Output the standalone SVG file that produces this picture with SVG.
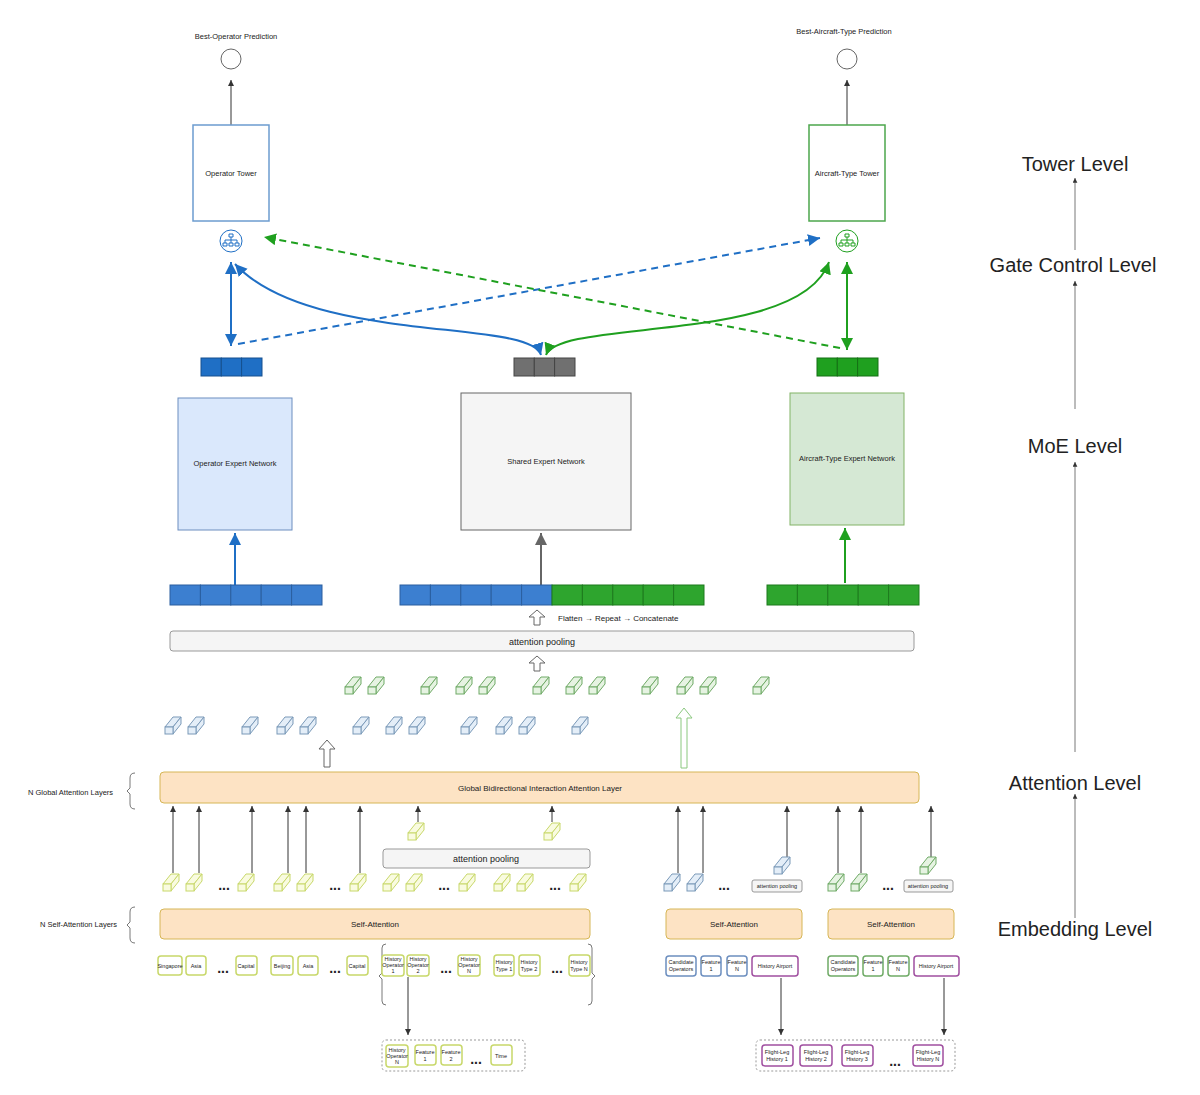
<svg xmlns="http://www.w3.org/2000/svg" xmlns:xlink="http://www.w3.org/1999/xlink" width="1200" height="1095" viewBox="0 0 1200 1095">
<style>
text{font-family:"Liberation Sans",Arial,sans-serif;fill:#222}
.s7{font-size:7.5px}.s6{font-size:5.5px}.s8{font-size:8px}.s9{font-size:9px}.lv{font-size:20px}
.ln{stroke:#333;stroke-width:1;fill:none}
.thin{stroke:#555;stroke-width:0.8;fill:none}
.cy{fill:#f9fbe0;stroke:#c8d86a}
.cb{fill:#e4eef8;stroke:#7a99b8}
.cg{fill:#e6f3e2;stroke:#6faa66}
.ey{fill:#fff;stroke:#c8d86a;stroke-width:1.5}
.eb{fill:#fff;stroke:#6c8ebf;stroke-width:1.5}
.eg{fill:#fff;stroke:#6faa66;stroke-width:1.5}
.ep{fill:#fff;stroke:#a04fa0;stroke-width:1.5}
.att{fill:#fde3c4;stroke:#d6b656}
.pool{fill:#f5f5f5;stroke:#999}
.dot{font-size:14px;font-weight:bold}
.hol{fill:#fff;stroke:#666}
</style>
<defs>
<g id="cube" stroke-width="1"><polygon points="0,10 8,0 16,0 8,10"/><polygon points="8,10 16,0 16,7 8,17"/><rect x="0" y="10" width="8" height="7"/></g>
<marker id="ak" markerWidth="8" markerHeight="8" refX="6" refY="3" orient="auto"><path d="M0,0 L6,3 L0,6z" fill="#333"/></marker>
<marker id="ab" markerWidth="8" markerHeight="8" refX="6" refY="3" orient="auto-start-reverse"><path d="M0,0 L6,3 L0,6z" fill="#1f6fc5"/></marker>
<marker id="ag" markerWidth="8" markerHeight="8" refX="6" refY="3" orient="auto-start-reverse"><path d="M0,0 L6,3 L0,6z" fill="#1fa01f"/></marker>
<marker id="ay" markerWidth="8" markerHeight="8" refX="6" refY="3" orient="auto"><path d="M0,0 L6,3 L0,6z" fill="#666"/></marker>
<g id="gate" fill="none" stroke-width="1"><circle r="11"/><path d="M-2,-7h4v3h-4z M0,-4v3 M-6,-1h12 M-6,-1v3 M0,-1v3 M6,-1v3 M-8,2h4v3h-4z M-2,2h4v3h-4z M4,2h4v3h-4z"/></g>
</defs>

<g id="levels">
<text class="lv" x="1075" y="171" text-anchor="middle">Tower Level</text>
<text class="lv" x="1073" y="272" text-anchor="middle">Gate Control Level</text>
<text class="lv" x="1075" y="453" text-anchor="middle">MoE Level</text>
<text class="lv" x="1075" y="790" text-anchor="middle">Attention Level</text>
<text class="lv" x="1075" y="936" text-anchor="middle">Embedding Level</text>
</g>

<g id="connectors">
<g class="thin" marker-end="url(#ak)">
<path d="M1075,250V178"/><path d="M1075,409V281"/><path d="M1075,752V462"/><path d="M1075,918V794"/>
</g>
<path class="ln" d="M231,125V80" marker-end="url(#ak)"/>
<path class="ln" d="M847,125V80" marker-end="url(#ak)"/>
<path d="M231,346V262" stroke="#1f6fc5" stroke-width="2" fill="none" marker-start="url(#ab)" marker-end="url(#ab)"/>
<path d="M847,350V262" stroke="#1fa01f" stroke-width="2" fill="none" marker-start="url(#ag)" marker-end="url(#ag)"/>
<path d="M541,355C530,318 310,345 235,264" stroke="#1f6fc5" stroke-width="2" fill="none" marker-start="url(#ab)" marker-end="url(#ab)"/>
<path d="M546,355C560,318 800,345 829,262" stroke="#1fa01f" stroke-width="2" fill="none" marker-start="url(#ag)" marker-end="url(#ag)"/>
<path d="M238,344L820,238" stroke="#1f6fc5" stroke-width="2" stroke-dasharray="7,5" fill="none" marker-end="url(#ab)"/>
<path d="M840,348L264,237" stroke="#1fa01f" stroke-width="2" stroke-dasharray="7,5" fill="none" marker-end="url(#ag)"/>
<path d="M235,585V533" stroke="#1f6fc5" stroke-width="2" fill="none" marker-end="url(#ab)"/>
<path d="M541,585V533" stroke="#666" stroke-width="2" fill="none" marker-end="url(#ay)"/>
<path d="M845,583V528" stroke="#1fa01f" stroke-width="2" fill="none" marker-end="url(#ag)"/>
<g class="ln" marker-end="url(#ak)">
<path d="M173,873V806"/><path d="M199,873V806"/><path d="M252,873V806"/><path d="M288,873V806"/><path d="M306,873V806"/><path d="M360,873V806"/><path d="M418,822V806"/><path d="M552,822V806"/><path d="M678,873V806"/><path d="M703,873V806"/><path d="M787,857V806"/><path d="M838,873V806"/><path d="M861,873V806"/><path d="M931,857V806"/><path d="M408,977V1035"/><path d="M781,978V1035"/><path d="M944,978V1035"/>
</g>
<path class="hol" d="M534,625v-8h-5l8,-7l8,7h-5v8z"/>
<path class="hol" d="M534,671v-8h-5l8,-7l8,7h-5v8z"/>
<path class="hol" d="M324,767v-18h-5l8,-9l8,9h-5v18z"/>
<path d="M681,768v-50h-5l8,-10l8,10h-5v50z" fill="#fff" stroke="#8bc87f"/>
</g>

<g id="top-left">
<text class="s7" x="236" y="39" text-anchor="middle">Best-Operator Prediction</text>
<circle cx="231" cy="59" r="10" fill="#fff" stroke="#666"/>
<rect x="193" y="125" width="76" height="96" fill="#fff" stroke="#6c9ccf" stroke-width="1.5"/>
<text class="s7" x="231" y="176" text-anchor="middle">Operator Tower</text>
<use href="#gate" x="231" y="241" stroke="#1f6fc5"/>
</g>
<g id="top-right">
<text class="s7" x="844" y="34" text-anchor="middle">Best-Aircraft-Type Prediction</text>
<circle cx="847" cy="59" r="10" fill="#fff" stroke="#666"/>
<rect x="809" y="125" width="76" height="96" fill="#fff" stroke="#4ca64c" stroke-width="1.5"/>
<text class="s7" x="847" y="176" text-anchor="middle">Aircraft-Type Tower</text>
<use href="#gate" x="847" y="241" stroke="#1fa01f"/>
</g>

<g id="gate-vectors" stroke-width="1">
<g fill="#1f6fc5" stroke="#16508f"><rect x="201" y="358" width="20.3" height="18"/><rect x="221.3" y="358" width="20.3" height="18"/><rect x="241.6" y="358" width="20.4" height="18"/></g>
<g fill="#707070" stroke="#444"><rect x="514" y="358" width="20.3" height="18"/><rect x="534.3" y="358" width="20.3" height="18"/><rect x="554.6" y="358" width="20.4" height="18"/></g>
<g fill="#1fa01f" stroke="#157015"><rect x="817" y="358" width="20.3" height="18"/><rect x="837.3" y="358" width="20.3" height="18"/><rect x="857.6" y="358" width="20.4" height="18"/></g>
</g>

<g id="experts">
<rect x="178" y="398" width="114" height="132" fill="#dae8fc" stroke="#6c8ebf"/>
<text class="s7" x="235" y="466" text-anchor="middle">Operator Expert Network</text>
<rect x="461" y="393" width="170" height="137" fill="#f5f5f5" stroke="#666"/>
<text class="s7" x="546" y="464" text-anchor="middle">Shared Expert Network</text>
<rect x="790" y="393" width="114" height="132" fill="#d5e8d4" stroke="#82b366"/>
<text class="s7" x="847" y="461" text-anchor="middle">Aircraft-Type Expert Network</text>
</g>

<g id="feature-bars">
<g fill="#3c7fd0" stroke="#2a5f9f"><rect x="170" y="585" width="30.4" height="20"/><rect x="200.4" y="585" width="30.4" height="20"/><rect x="230.8" y="585" width="30.4" height="20"/><rect x="261.2" y="585" width="30.4" height="20"/><rect x="291.6" y="585" width="30.4" height="20"/>
<rect x="400" y="585" width="30.4" height="20"/><rect x="430.4" y="585" width="30.4" height="20"/><rect x="460.8" y="585" width="30.4" height="20"/><rect x="491.2" y="585" width="30.4" height="20"/><rect x="521.6" y="585" width="30.4" height="20"/></g>
<g fill="#2ea52e" stroke="#1d7a1d"><rect x="552" y="585" width="30.4" height="20"/><rect x="582.4" y="585" width="30.4" height="20"/><rect x="612.8" y="585" width="30.4" height="20"/><rect x="643.2" y="585" width="30.4" height="20"/><rect x="673.6" y="585" width="30.4" height="20"/>
<rect x="767" y="585" width="30.4" height="20"/><rect x="797.4" y="585" width="30.4" height="20"/><rect x="827.8" y="585" width="30.4" height="20"/><rect x="858.2" y="585" width="30.4" height="20"/><rect x="888.6" y="585" width="30.4" height="20"/></g>
<text class="s8" x="558" y="621">Flatten → Repeat → Concatenate</text>
</g>

<g id="attention-pooling-top">
<rect x="170" y="631" width="744" height="20" rx="3" class="pool"/>
<text class="s9" x="542" y="645" text-anchor="middle">attention pooling</text>
</g>

<g id="cubes-green" class="cg">
<use href="#cube" x="345" y="677"/><use href="#cube" x="368" y="677"/><use href="#cube" x="421" y="677"/><use href="#cube" x="456" y="677"/><use href="#cube" x="479" y="677"/><use href="#cube" x="533" y="677"/><use href="#cube" x="566" y="677"/><use href="#cube" x="589" y="677"/><use href="#cube" x="642" y="677"/><use href="#cube" x="677" y="677"/><use href="#cube" x="700" y="677"/><use href="#cube" x="753" y="677"/>
</g>
<g id="cubes-blue" class="cb">
<use href="#cube" x="165" y="717"/><use href="#cube" x="188" y="717"/><use href="#cube" x="242" y="717"/><use href="#cube" x="277" y="717"/><use href="#cube" x="300" y="717"/><use href="#cube" x="353" y="717"/><use href="#cube" x="386" y="717"/><use href="#cube" x="409" y="717"/><use href="#cube" x="461" y="717"/><use href="#cube" x="496" y="717"/><use href="#cube" x="519" y="717"/><use href="#cube" x="572" y="717"/>
</g>

<g id="global-attention">
<rect x="160" y="772" width="759" height="31" rx="4" class="att"/>
<text class="s8" x="540" y="791" text-anchor="middle">Global Bidirectional Interaction Attention Layer</text>
<text class="s7" x="28" y="795">N Global Attention Layers</text>
<path class="thin" d="M135,773q-5,0 -5,5v10l-3,3l3,3v10q0,5 5,5"/>
</g>

<g id="cubes-yellow" class="cy">
<use href="#cube" x="163" y="874"/><use href="#cube" x="186" y="874"/><use href="#cube" x="238" y="874"/><use href="#cube" x="274" y="874"/><use href="#cube" x="297" y="874"/><use href="#cube" x="350" y="874"/><use href="#cube" x="383" y="874"/><use href="#cube" x="406" y="874"/><use href="#cube" x="459" y="874"/><use href="#cube" x="494" y="874"/><use href="#cube" x="517" y="874"/><use href="#cube" x="570" y="874"/>
<use href="#cube" x="408" y="823"/><use href="#cube" x="544" y="823"/>
</g>
<g id="dots-mid">
<text class="dot" x="224" y="890" text-anchor="middle">...</text><text class="dot" x="335" y="890" text-anchor="middle">...</text><text class="dot" x="444" y="890" text-anchor="middle">...</text><text class="dot" x="555" y="890" text-anchor="middle">...</text>
<text class="dot" x="724" y="890" text-anchor="middle">...</text><text class="dot" x="888" y="890" text-anchor="middle">...</text>
</g>
<g id="pool-mid">
<rect x="383" y="849" width="207" height="19" rx="3" class="pool"/>
<text class="s9" x="486" y="862" text-anchor="middle">attention pooling</text>
</g>
<g id="right-operator-cubes" class="cb">
<use href="#cube" x="664" y="874"/><use href="#cube" x="687" y="874"/><use href="#cube" x="774" y="857"/>
</g>
<g id="right-type-cubes" class="cg">
<use href="#cube" x="828" y="874"/><use href="#cube" x="851" y="874"/><use href="#cube" x="920" y="857"/>
</g>
<g id="small-pools">
<rect x="752" y="880" width="50" height="12" rx="2" class="pool"/><text class="s6" x="777" y="888" text-anchor="middle">attention pooling</text>
<rect x="904" y="880" width="49" height="12" rx="2" class="pool"/><text class="s6" x="928" y="888" text-anchor="middle">attention pooling</text>
</g>

<g id="self-attention">
<rect x="160" y="909" width="430" height="30" rx="4" class="att"/><text class="s8" x="375" y="927" text-anchor="middle">Self-Attention</text>
<rect x="666" y="909" width="136" height="30" rx="4" class="att"/><text class="s8" x="734" y="927" text-anchor="middle">Self-Attention</text>
<rect x="828" y="909" width="126" height="30" rx="4" class="att"/><text class="s8" x="891" y="927" text-anchor="middle">Self-Attention</text>
<text class="s7" x="40" y="927">N Self-Attention Layers</text>
<path class="thin" d="M135,907q-5,0 -5,5v10l-3,3l3,3v10q0,5 5,5"/>
</g>

<g id="embeddings-left">
<rect x="158" y="956" width="24" height="19" rx="3" class="ey"/><text class="s6" x="170" y="968" text-anchor="middle">Singapore</text>
<rect x="186" y="956" width="20" height="19" rx="3" class="ey"/><text class="s6" x="196" y="968" text-anchor="middle">Asia</text>
<text class="dot" x="223" y="973" text-anchor="middle">...</text>
<rect x="236" y="956" width="21" height="19" rx="3" class="ey"/><text class="s6" x="246" y="968" text-anchor="middle">Capital</text>
<rect x="271" y="956" width="22" height="19" rx="3" class="ey"/><text class="s6" x="282" y="968" text-anchor="middle">Beijing</text>
<rect x="298" y="956" width="20" height="19" rx="3" class="ey"/><text class="s6" x="308" y="968" text-anchor="middle">Asia</text>
<text class="dot" x="335" y="973" text-anchor="middle">...</text>
<rect x="347" y="956" width="21" height="19" rx="3" class="ey"/><text class="s6" x="357" y="968" text-anchor="middle">Capital</text>
<path class="thin" d="M386,944q-4,0 -4,4v25l-3,3l3,3v22q0,4 4,4 M588,944q4,0 4,4v25l3,3l-3,3v22q0,4 -4,4"/>
<g class="s6" text-anchor="middle">
<rect x="382" y="955" width="22" height="21" rx="3" class="ey"/><text x="393" y="961">History</text><text x="393" y="967">Operator</text><text x="393" y="973">1</text>
<rect x="407" y="955" width="22" height="21" rx="3" class="ey"/><text x="418" y="961">History</text><text x="418" y="967">Operator</text><text x="418" y="973">2</text>
<rect x="458" y="955" width="22" height="21" rx="3" class="ey"/><text x="469" y="961">History</text><text x="469" y="967">Operator</text><text x="469" y="973">N</text>
<rect x="494" y="955" width="20" height="21" rx="3" class="ey"/><text x="504" y="964">History</text><text x="504" y="971">Type 1</text>
<rect x="519" y="955" width="21" height="21" rx="3" class="ey"/><text x="529" y="964">History</text><text x="529" y="971">Type 2</text>
<rect x="569" y="955" width="21" height="21" rx="3" class="ey"/><text x="579" y="964">History</text><text x="579" y="971">Type N</text>
</g>
<text class="dot" x="446" y="973" text-anchor="middle">...</text>
<text class="dot" x="557" y="973" text-anchor="middle">...</text>
</g>
<g id="operator-detail">
<rect x="382" y="1040" width="143" height="31" rx="4" fill="none" stroke="#999" stroke-dasharray="2,2"/>
<g class="s6" text-anchor="middle">
<rect x="386" y="1045" width="22" height="22" rx="3" class="ey"/><text x="397" y="1052">History</text><text x="397" y="1058">Operator</text><text x="397" y="1064">N</text>
<rect x="415" y="1045" width="21" height="20" rx="3" class="ey"/><text x="425" y="1054">Feature</text><text x="425" y="1061">1</text>
<rect x="441" y="1045" width="21" height="20" rx="3" class="ey"/><text x="451" y="1054">Feature</text><text x="451" y="1061">2</text>
<rect x="491" y="1045" width="21" height="20" rx="3" class="ey"/><text x="501" y="1058">Time</text>
</g>
<text class="dot" x="476" y="1064" text-anchor="middle">...</text>
</g>

<g id="embeddings-right" class="s6" text-anchor="middle">
<rect x="666" y="956" width="30" height="20" rx="3" class="eb"/><text x="681" y="964">Candidate</text><text x="681" y="971">Operators</text>
<rect x="701" y="956" width="20" height="20" rx="3" class="eb"/><text x="711" y="964">Feature</text><text x="711" y="971">1</text>
<rect x="727" y="956" width="20" height="20" rx="3" class="eb"/><text x="737" y="964">Feature</text><text x="737" y="971">N</text>
<rect x="752" y="956" width="46" height="20" rx="3" class="ep"/><text x="775" y="968">History Airport</text>
<rect x="828" y="956" width="30" height="20" rx="3" class="eg"/><text x="843" y="964">Candidate</text><text x="843" y="971">Operators</text>
<rect x="863" y="956" width="20" height="20" rx="3" class="eg"/><text x="873" y="964">Feature</text><text x="873" y="971">1</text>
<rect x="888" y="956" width="21" height="20" rx="3" class="eg"/><text x="898" y="964">Feature</text><text x="898" y="971">N</text>
<rect x="914" y="956" width="45" height="20" rx="3" class="ep"/><text x="936" y="968">History Airport</text>
</g>
<g id="flight-detail">
<rect x="756" y="1040" width="199" height="31" rx="4" fill="none" stroke="#999" stroke-dasharray="2,2"/>
<g class="s6" text-anchor="middle">
<rect x="762" y="1045" width="31" height="21" rx="3" class="ep"/><text x="777" y="1054">Flight-Leg</text><text x="777" y="1061">History 1</text>
<rect x="800" y="1045" width="32" height="21" rx="3" class="ep"/><text x="816" y="1054">Flight-Leg</text><text x="816" y="1061">History 2</text>
<rect x="842" y="1045" width="31" height="21" rx="3" class="ep"/><text x="857" y="1054">Flight-Leg</text><text x="857" y="1061">History 3</text>
<rect x="913" y="1045" width="30" height="21" rx="3" class="ep"/><text x="928" y="1054">Flight-Leg</text><text x="928" y="1061">History N</text>
</g>
<text class="dot" x="895" y="1066" text-anchor="middle">...</text>
</g>
</svg>
